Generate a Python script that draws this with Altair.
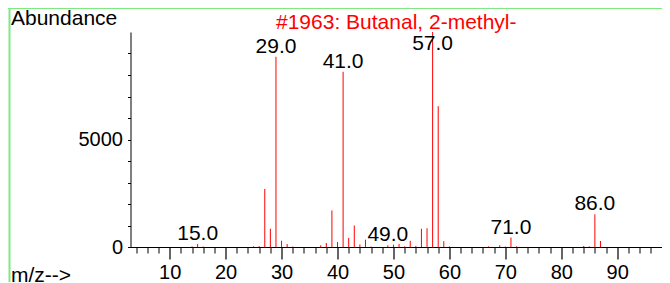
import altair as alt
import pandas as pd

# Mass spectrum of #1963: Butanal, 2-methyl-
mz = [14, 15, 16, 25, 26, 27, 28, 29, 30, 31, 32, 37, 38, 39, 40, 41, 42, 43, 44, 45,
      46, 49, 50, 51, 52, 53, 54, 55, 56, 57, 58, 59, 60, 67, 69, 70, 71, 72, 84, 85,
      86, 87]
abundance = [30, 140, 20, 30, 40, 2700, 850, 8850, 290, 140, 20, 80, 190, 1700, 230,
             8150, 420, 1000, 120, 340, 20, 80, 110, 140, 30, 290, 50, 850, 870, 10000,
             6550, 270, 30, 30, 80, 20, 440, 30, 50, 30, 1520, 280]
labeled_mz = [15, 29, 41, 49, 57, 71, 86]
x_tick_values = list(range(4, 97, 2))
y_tick_values = list(range(0, 10000, 1000))
title_text = "#1963: Butanal, 2-methyl-"

FONT = "Liberation Sans"
RED = "#ff0000"
GREEN = "#80e880"

df = pd.DataFrame({"mz": mz, "abundance": abundance})
lab_df = pd.DataFrame({
    "mz": labeled_mz,
    "abundance": [abundance[mz.index(m)] for m in labeled_mz],
})
one = pd.DataFrame({"k": [0]})

major = "datum.value % 10 === 0"

x_scale = alt.Scale(domain=[3, 98], nice=False, zero=False)
y_scale = alt.Scale(domain=[0, 10000], nice=False)

x_axis = alt.Axis(
    values=x_tick_values,
    labelExpr=f"{major} ? datum.label : ''",
    labelOverlap=False,
    labelFlush=False,
    labelFont=FONT, labelFontSize=20, labelColor="black", labelPadding=3,
    tickSize={"condition": {"test": major, "value": 12}, "value": 6},
    tickColor={"condition": {"test": major, "value": "#666666"}, "value": "black"},
    tickWidth={"condition": {"test": major, "value": 2}, "value": 1},
    domainColor="black", grid=False,
    title="m/z-->", titleFont=FONT, titleFontSize=21, titleFontWeight="normal",
    titleColor="black", titleAlign="left", titleBaseline="alphabetic",
    titleAnchor="start", titleX=-120, titleY=34,
)
y_axis = alt.Axis(
    values=y_tick_values,
    format="d",
    labelExpr="datum.value % 5000 === 0 ? datum.label : ''",
    labelOverlap=False,
    labelFont=FONT, labelFontSize=20, labelColor="black", labelPadding=5,
    labelBaseline="middle",
    tickSize=3, tickColor="black", domainColor="black", grid=False,
    title="Abundance", titleFont=FONT, titleFontSize=21, titleFontWeight="normal",
    titleColor="black", titleAngle=0, titleAlign="left", titleBaseline="alphabetic",
    titleAnchor="start", titleX=-120, titleY=-8,
)

peaks = alt.Chart(df).mark_rule(color=RED, strokeWidth=1).encode(
    x=alt.X("mz:Q", scale=x_scale, axis=x_axis),
    y=alt.Y("abundance:Q", scale=y_scale, axis=y_axis),
    y2=alt.datum(0),
)

labels = alt.Chart(lab_df).transform_calculate(
    ly="min(datum.abundance, 8970)"
).mark_text(
    dy=-4, baseline="alphabetic", align="center", font=FONT, fontSize=21, color="black"
).encode(
    x=alt.X("mz:Q", scale=x_scale, axis=x_axis),
    y=alt.Y("ly:Q", scale=y_scale, axis=y_axis),
    text=alt.Text("mz:Q", format=".1f"),
)

border_top = alt.Chart(one).mark_rule(color=GREEN, strokeWidth=2).encode(
    x=alt.value(-123), x2=alt.value(540), y=alt.value(-24)
)
border_left = alt.Chart(one).mark_rule(color=GREEN, strokeWidth=2).encode(
    x=alt.value(-121), y=alt.value(-24), y2=alt.value(260)
)

chart = alt.layer(border_top, border_left, peaks, labels).properties(
    width=531.5,
    height=215,
    autosize=alt.AutoSizeParams(type="none"),
    padding={"left": 122.5, "top": 24, "right": 0, "bottom": 35},
    title=alt.TitleParams(
        text=title_text, color=RED, font=FONT, fontSize=21, fontWeight="normal",
        anchor="middle", frame="group", baseline="alphabetic", offset=-43,
    ),
).configure_view(stroke=None).configure_axis(labelOverlap=False)

chart.save("out.html", embed_options={"renderer": "svg", "actions": False})
